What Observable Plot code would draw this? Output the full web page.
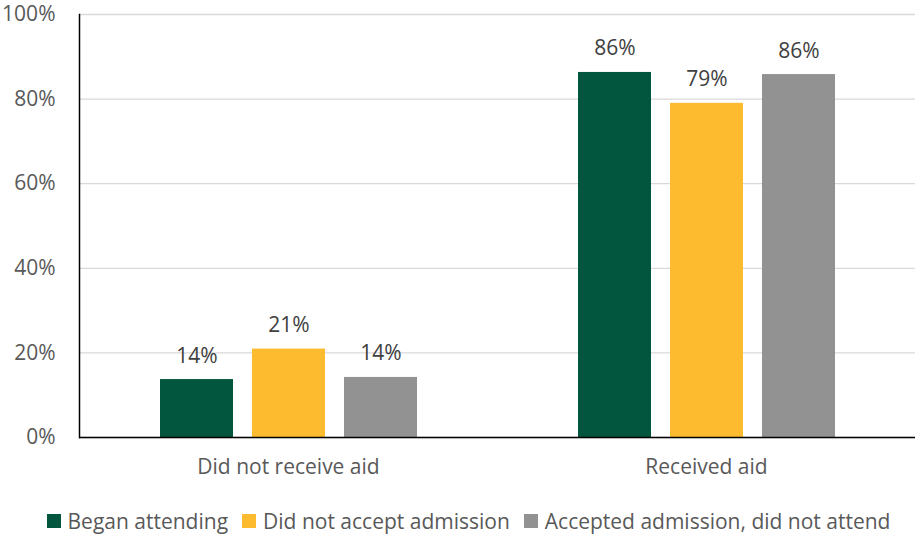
<!DOCTYPE html>
<html><head><meta charset="utf-8">
<script src="https://cdn.jsdelivr.net/npm/d3@7"></script>
<script src="https://cdn.jsdelivr.net/npm/@observablehq/plot@0.6"></script>
<style>
body{margin:0;background:#fff;font-family:"Open Sans",sans-serif;}
#chart svg{display:block;}
#legend{display:flex;justify-content:center;align-items:center;height:30px;margin-top:11px;padding-left:22px;font-size:21px;color:#595959;font-family:"Open Sans",sans-serif;}
#legend .item{display:flex;align-items:center;margin:0 7px;}
#legend .sw{width:14px;height:14px;margin-right:7px;}
</style></head><body><div id="chart"></div><div id="legend"></div>
<script>
const groups = ["Did not receive aid", "Received aid"];
const series = ["Began attending", "Did not accept admission", "Accepted admission, did not attend"];
const colors = ["#02563D", "#FDBB30", "#929292"];
const notReceivedAid = [0.137, 0.209, 0.142];
const receivedAid = [0.863, 0.790, 0.858];
const yTicks = [0, 0.2, 0.4, 0.6, 0.8, 1.0];

const groupValues = [notReceivedAid, receivedAid];
const data = groups.flatMap((g, i) => series.map((s, j) => ({group: g, series: s, value: groupValues[i][j]})));
const pct = d3.format(".0%");

const plot = Plot.plot({
  width: 915, height: 495,
  marginLeft: 78, marginRight: 0, marginTop: 14, marginBottom: 58,
  style: {fontFamily: "Open Sans", fontSize: "21px", color: "#595959", background: "#fff"},
  fx: {domain: groups, padding: 0, label: null},
  x: {domain: series, axis: null, paddingInner: 0.21, paddingOuter: 0.867},
  y: {domain: [0, 1], label: null},
  color: {domain: series, range: colors},
  marks: [
    Plot.gridY(yTicks, {stroke: "#D9D9D9", strokeOpacity: 1, strokeWidth: 1.3}),
    Plot.barY(data, {fx: "group", x: "series", y: "value", fill: "series"}),
    Plot.text(data, {fx: "group", x: "series", y: "value", text: d => pct(d.value), dy: -17, lineAnchor: "bottom", fill: "#404040", fontSize: 21}),
    Plot.axisY(yTicks, {tickSize: 0, tickPadding: 24, tickFormat: ".0%", fontSize: 21, fill: "#595959", label: null}),
    Plot.axisFx({anchor: "bottom", tickSize: 0, tickPadding: 22, fontSize: 21, fill: "#595959", label: null}),
    Plot.ruleY([0], {stroke: "#000", strokeWidth: 1.5}),
    Plot.frame({anchor: "left", facet: "super", stroke: "#000", strokeWidth: 1.5})
  ]
});
document.getElementById("chart").appendChild(plot);

const legend = document.getElementById("legend");
series.forEach((s, i) => {
  const item = document.createElement("div");
  item.className = "item";
  const sw = document.createElement("span");
  sw.className = "sw";
  sw.style.background = colors[i];
  const t = document.createElement("span");
  t.textContent = s;
  item.appendChild(sw); item.appendChild(t);
  legend.appendChild(item);
});
</script></body></html>
